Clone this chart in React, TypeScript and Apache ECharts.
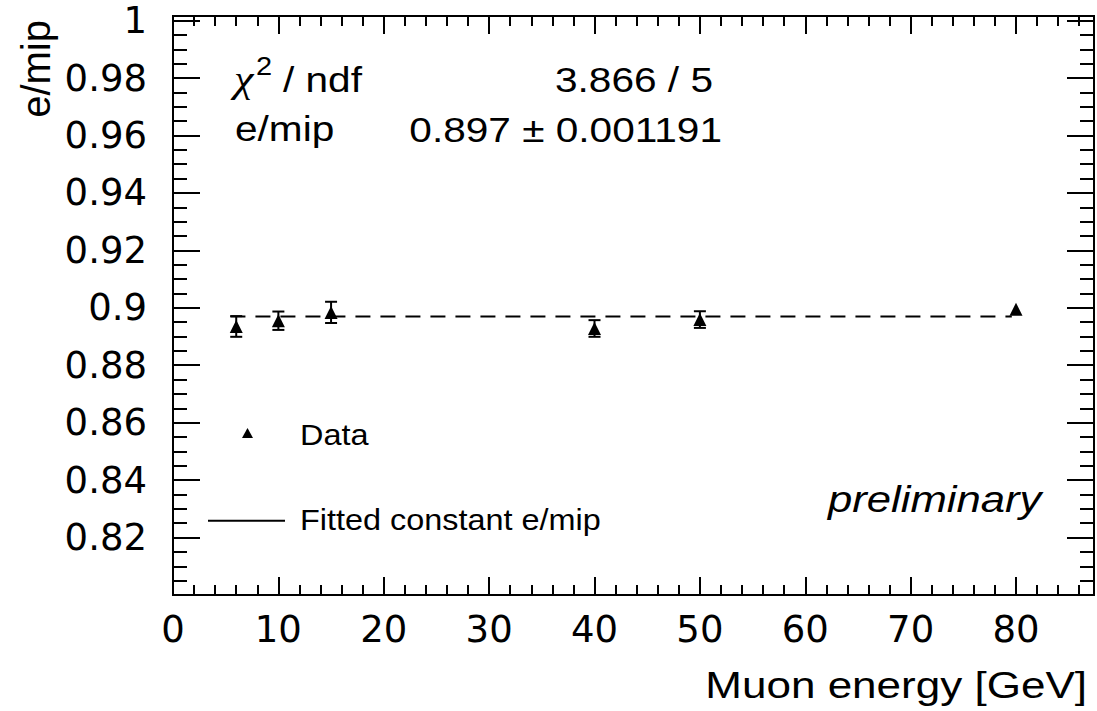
import React, { useEffect, useRef } from "react";
import * as echarts from "echarts";

// Measured e/mip ratio per muon beam energy, with statistical errors
const energies = [6, 10, 15, 40, 50, 80];
const emipRatio = [0.8935, 0.8955, 0.8984, 0.8928, 0.8959, 0.8995];
const emipError = [0.0036, 0.0032, 0.0037, 0.0029, 0.0029, 0.0012];

// Constant fit result and the range it was drawn over
const fitConstant = 0.897;
const fitRange = [5.45, 79.6];

// Fit statistics box
const statNames = ["/ ndf", "e/mip"];
const statValues = ["3.866 / 5", "0.897 \u00b1 0.001191"];

// Legend entries
const legendNames = ["Data", "Fitted constant e/mip"];

const X_MIN = 0;
const X_MAX = 87.4;
const Y_MIN = 0.8;
const Y_MAX = 1.0016;

const MARKER = 13;

const SANS = '"Liberation Sans", Arial, Helvetica, sans-serif';
const TICK_FONT = '"DejaVu Sans", sans-serif';
const SX = 1.16;

type TextOpts = {
  align?: "left" | "right" | "center";
  scaleX?: number;
  italic?: boolean;
  family?: string;
};

// Text placed by its baseline; "middle" in zrender sits ~0.3465em above it
function label(text: string, x: number, baseline: number, size: number, opts: TextOpts = {}) {
  const { align = "left", scaleX = SX, italic = false, family = SANS } = opts;
  return {
    type: "text",
    x,
    y: baseline - 0.3465 * size,
    scaleX,
    silent: true,
    style: {
      text,
      x: 0,
      y: 0,
      fill: "#000",
      font: `${italic ? "italic " : ""}${size}px ${family}`,
      align,
      verticalAlign: "middle",
      textAlign: align,
      textVerticalAlign: "middle",
    },
  };
}

const axisLineStyle = { color: "#000", width: 2 };
const tickStyle = { color: "#000", width: 2 };

function xAxisDef(position: "top" | "bottom", interval: number, len: number, withLabels: boolean) {
  return {
    type: "value",
    gridIndex: 0,
    position,
    min: X_MIN,
    max: X_MAX,
    interval,
    axisLine: { show: true, onZero: false, lineStyle: axisLineStyle },
    axisTick: { show: true, inside: true, length: len, lineStyle: tickStyle },
    minorTick: { show: false },
    splitLine: { show: false },
    axisLabel: withLabels
      ? {
          show: true,
          color: "#000",
          fontFamily: TICK_FONT,
          fontSize: 37,
          margin: 16,
          showMinLabel: true,
          showMaxLabel: false,
        }
      : { show: false },
  };
}

function yAxisDef(position: "left" | "right", interval: number, len: number, withLabels: boolean) {
  return {
    type: "value",
    gridIndex: 0,
    position,
    min: Y_MIN,
    max: Y_MAX,
    interval,
    axisLine: { show: true, onZero: false, lineStyle: axisLineStyle },
    axisTick: { show: true, inside: true, length: len, lineStyle: tickStyle },
    minorTick: { show: false },
    splitLine: { show: false },
    axisLabel: withLabels
      ? {
          show: true,
          color: "#000",
          fontFamily: TICK_FONT,
          fontSize: 37,
          margin: 26,
          showMinLabel: false,
          showMaxLabel: false,
        }
      : { show: false },
  };
}

export default function App() {
  const ref = useRef<HTMLDivElement>(null);

  useEffect(() => {
    if (!ref.current) return;
    const chart = echarts.init(ref.current, undefined, { renderer: "svg" });

    const points = energies.map((e, i) => [e, emipRatio[i]]);
    const bars = energies.map((e, i) => [e, emipRatio[i], emipError[i]]);
    const fitLine = fitRange.map((x) => [x, fitConstant]);

    const option = {
      animation: false,
      backgroundColor: "#fff",
      grid: {
        left: 173,
        top: 16,
        width: 921,
        height: 579,
        containLabel: false,
        outerBoundsMode: "none",
      },
      xAxis: [
        xAxisDef("bottom", 10, 18, true),
        xAxisDef("bottom", 2, 10, false),
        xAxisDef("top", 10, 18, false),
        xAxisDef("top", 2, 10, false),
      ],
      yAxis: [
        yAxisDef("left", 0.02, 27, true),
        yAxisDef("left", 0.005, 14, false),
        yAxisDef("right", 0.02, 27, false),
        yAxisDef("right", 0.005, 14, false),
      ],
      series: [
        {
          type: "line",
          name: "fit",
          xAxisIndex: 0,
          yAxisIndex: 0,
          data: fitLine,
          showSymbol: false,
          symbol: "none",
          silent: true,
          lineStyle: { color: "#000", width: 2, type: [15, 10], opacity: 1 },
          z: 2,
        },
        {
          type: "custom",
          name: "errors",
          xAxisIndex: 0,
          yAxisIndex: 0,
          data: bars,
          encode: { x: 0, y: 1 },
          silent: true,
          z: 3,
          renderItem: (_params: any, api: any) => {
            const x = api.value(0);
            const y = api.value(1);
            const e = api.value(2);
            const top = api.coord([x, y + e]);
            const bot = api.coord([x, y - e]);
            // bars shorter than the marker stay hidden behind it
            if (Math.abs(bot[1] - top[1]) / 2 <= MARKER / 2) return null;
            const half = 6;
            const st = { stroke: "#000", lineWidth: 2 };
            return {
              type: "group",
              children: [
                { type: "line", shape: { x1: top[0], y1: top[1], x2: bot[0], y2: bot[1] }, style: st },
                { type: "line", shape: { x1: top[0] - half, y1: top[1], x2: top[0] + half, y2: top[1] }, style: st },
                { type: "line", shape: { x1: bot[0] - half, y1: bot[1], x2: bot[0] + half, y2: bot[1] }, style: st },
              ],
            };
          },
        },
        {
          type: "scatter",
          name: "Data",
          xAxisIndex: 0,
          yAxisIndex: 0,
          data: points,
          symbol: "triangle",
          symbolSize: [MARKER, MARKER],
          itemStyle: { color: "#000", opacity: 1 },
          silent: true,
          z: 4,
        },
      ],
      graphic: [
        // y-axis title, reading bottom to top
        {
          type: "text",
          x: 36,
          y: 20,
          rotation: Math.PI / 2,
          silent: true,
          style: {
            text: "e/mip",
            x: 0,
            y: 0,
            fill: "#000",
            font: `40px ${SANS}`,
            align: "right",
            verticalAlign: "middle",
            textAlign: "right",
            textVerticalAlign: "middle",
          },
        },
        // x-axis title
        label("Muon energy [GeV]", 1087, 698, 37, { align: "right", scaleX: 1.19 }),
        // fit statistics
        label("\u03c7", 234, 92, 38, { italic: true, family: '"Liberation Serif", "DejaVu Serif", serif' }),
        label("2", 256, 75, 25),
        label(statNames[0], 283, 92, 35),
        label(statNames[1], 235, 141, 35),
        label(statValues[0], 713, 92, 35, { align: "right" }),
        label(statValues[1], 722, 142, 35, { align: "right" }),
        // legend
        {
          type: "polygon",
          silent: true,
          shape: { points: [[247.5, 428], [253, 438], [242, 438]] },
          style: { fill: "#000" },
        },
        label(legendNames[0], 300, 445, 30, { scaleX: 1.08 }),
        {
          type: "line",
          silent: true,
          shape: { x1: 208, y1: 520.7, x2: 285, y2: 520.7 },
          style: { stroke: "#000", lineWidth: 2 },
        },
        label(legendNames[1], 300, 530, 30, { scaleX: 1.08 }),
        // watermark
        label("preliminary", 828, 512, 37, { italic: true, scaleX: 1.18 }),
      ],
    };

    chart.setOption(option as any);
    return () => chart.dispose();
  }, []);

  return (
    <div
      ref={ref}
      style={{ position: "absolute", left: 0, top: 0, width: 1097, height: 711, background: "#fff" }}
    />
  );
}
